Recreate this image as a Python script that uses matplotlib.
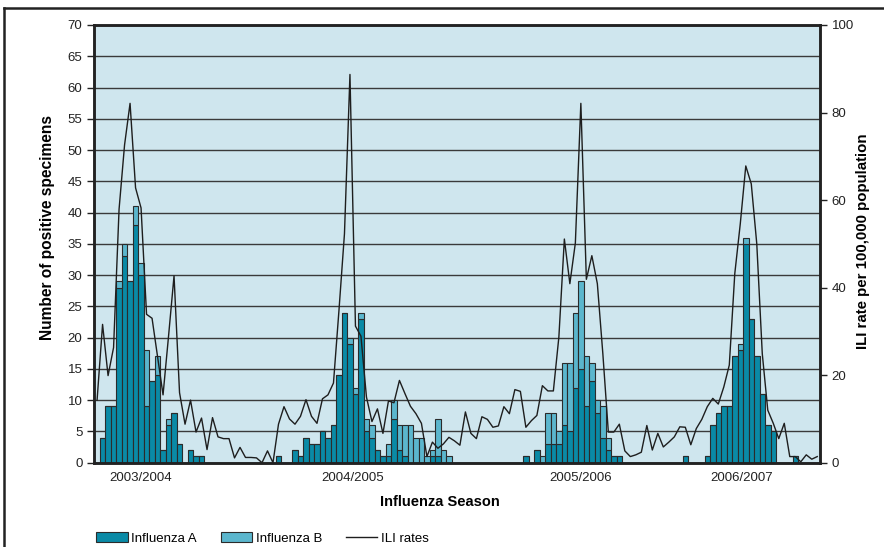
import numpy as np
import matplotlib
matplotlib.use('Agg')
import matplotlib.pyplot as plt
from matplotlib.lines import Line2D

plt.rcParams['font.family'] = ['Liberation Sans', 'DejaVu Sans']

# weekly counts of positive specimens (one slot per reporting week)
flu_a = [0, 4, 9, 9, 28, 33, 29, 38, 30, 9, 13, 14, 2, 6, 8, 3, 0, 2, 1, 1,
         0, 0, 0, 0, 0, 0, 0, 0, 0, 0, 0, 0, 0,
         1, 0, 0, 2, 1, 4, 3, 3, 5, 4, 6, 14, 24, 19, 11, 23, 5, 4, 2, 1, 1, 7,
         2, 1, 0, 0, 0, 0, 1, 1, 0, 0,
         0, 0, 0, 0, 0, 0, 0, 0, 0, 0, 0, 0, 0,
         1, 0, 2, 0, 3, 3, 3, 6, 5, 12, 15, 9, 13, 8, 4, 2, 1, 1,
         0, 0, 0, 0, 0, 0, 0, 0, 0, 0, 0,
         1, 0, 0, 0, 1, 6, 8, 9, 9, 17, 18, 35, 23, 17, 11, 6, 5, 0, 0, 0, 1,
         0, 0, 0, 0]
flu_b = [0, 0, 0, 0, 1, 2, 0, 3, 2, 9, 0, 3, 0, 1, 0, 0, 0, 0, 0, 0,
         0, 0, 0, 0, 0, 0, 0, 0, 0, 0, 0, 0, 0,
         0, 0, 0, 0, 0, 0, 0, 0, 0, 0, 0, 0, 0, 1, 1, 1, 2, 2, 0, 0, 2, 3,
         4, 5, 6, 4, 4, 1, 1, 6, 2, 1,
         0, 0, 0, 0, 0, 0, 0, 0, 0, 0, 0, 0, 0,
         0, 0, 0, 1, 5, 5, 2, 10, 11, 12, 14, 8, 3, 2, 5, 2, 0, 0,
         0, 0, 0, 0, 0, 0, 0, 0, 0, 0, 0,
         0, 0, 0, 0, 0, 0, 0, 0, 0, 0, 1, 1, 0, 0, 0, 0, 0, 0, 0, 0, 0,
         0, 0, 0, 0]
# ILI rate per 100,000 population (right axis)
ili_rate = [14.3, 31.6, 19.9, 26.3, 57.9, 72.6, 82.1, 62.8, 58.2, 33.9,
            33.0, 24.2, 15.5, 28.9, 42.7, 16.0, 8.8, 14.3, 7.0, 10.2,
            3.0, 10.3, 5.9, 5.5, 5.5, 1.1, 3.5, 1.2, 1.2, 1.1,
            0.0, 2.7, 0.0, 8.8, 12.8, 10.0, 8.8, 10.6, 14.4, 10.6,
            9.0, 14.6, 15.5, 18.2, 34.8, 52.3, 88.7, 31.2, 28.9, 15.0,
            9.4, 12.3, 6.7, 14.1, 13.7, 18.8, 15.8, 12.9, 11.2, 9.0,
            1.4, 4.7, 3.3, 4.3, 5.8, 5.0, 4.0, 11.6, 6.7, 5.5,
            10.5, 9.9, 8.1, 8.4, 12.8, 11.2, 16.7, 16.3, 8.1, 9.6,
            10.8, 17.6, 16.4, 16.4, 28.7, 51.1, 40.9, 50.2, 82.1, 41.9,
            47.3, 40.9, 24.9, 7.0, 7.0, 8.8, 2.7, 1.4, 1.8, 2.4,
            8.5, 2.9, 6.7, 3.6, 4.7, 5.9, 8.2, 8.1, 4.1, 7.8,
            9.9, 12.8, 14.7, 13.4, 17.3, 22.3, 43.2, 54.6, 67.8, 63.7,
            50.0, 24.9, 12.0, 9.0, 5.5, 9.0, 1.4, 1.4, 0.2, 1.8,
            0.8, 1.4]
seasons = ['2003/2004', '2004/2005', '2005/2006', '2006/2007']
season_weeks = [8, 46.5, 88, 117.3]

flu_a = np.array(flu_a)
flu_b = np.array(flu_b)
weeks = np.arange(len(flu_a))

fig = plt.figure(figsize=(8.84, 5.47), dpi=100)
ax = fig.add_axes([0.1067, 0.1541, 0.8209, 0.8002])
ax.set_facecolor('#cfe6ee')

# stacked bars
ax.bar(weeks, flu_a, width=1.0, color='#0a8aa6', edgecolor='#2b2b2b',
       linewidth=0.8, label='Influenza A', zorder=2)
ax.bar(weeks, flu_b, bottom=flu_a, width=1.0, color='#5bb6cd',
       edgecolor='#2b2b2b', linewidth=0.8, label='Influenza B', zorder=2)

ax.set_xlim(-0.5, len(weeks) - 0.5)
ax.set_ylim(0, 70)
ax.set_yticks(np.arange(0, 71, 5))
ax.yaxis.grid(True, color='#3a3a3a', linewidth=1.0, zorder=1)
ax.set_axisbelow(True)
ax.set_xticks(season_weeks)
ax.set_xticklabels(seasons)
ax.tick_params(axis='x', length=0, pad=7, labelsize=9.5, colors='#222222')
ax.tick_params(axis='y', length=5, width=1, labelsize=9.5, colors='#222222')
for s in ax.spines.values():
    s.set_linewidth(1.8)
    s.set_color('#222222')

ax.set_ylabel('Number of positive specimens', fontsize=11.2, fontweight='bold')
ax.yaxis.set_label_coords(-0.054, 0.537)
ax.set_xlabel('Influenza Season', fontsize=10.5, fontweight='bold')
ax.xaxis.set_label_coords(0.476, -0.074)

# ILI line on secondary axis
ax2 = ax.twinx()
ax2.plot(weeks, ili_rate, color='#1e1e1e', linewidth=1.0, label='ILI rates')
ax2.set_ylim(0, 100)
ax2.set_yticks([0, 20, 40, 60, 80, 100])
ax2.tick_params(axis='y', length=5, width=1, labelsize=9.5, colors='#222222')
for s in ax2.spines.values():
    s.set_linewidth(1.8)
    s.set_color('#222222')
ax2.set_ylabel('ILI rate per 100,000 population', fontsize=10.8, fontweight='bold')
ax2.yaxis.set_label_coords(1.050, 0.505)

# legend below the chart
h1, l1 = ax.get_legend_handles_labels()
h2, l2 = ax2.get_legend_handles_labels()
fig.legend(h1 + h2, l1 + l2, loc='center left', bbox_to_anchor=(0.109, 0.0155),
           ncol=3, frameon=False, fontsize=9.5, handlelength=2.4,
           handletextpad=0.25, columnspacing=1.8, borderpad=0, borderaxespad=0)

# outer frame (cut at the right and bottom)
fig.add_artist(Line2D([4 / 884, 4 / 884], [0, 1 - 8 / 547], color='#222222', lw=1.8))
fig.add_artist(Line2D([4 / 884, 1], [1 - 8 / 547, 1 - 8 / 547], color='#222222', lw=1.8))

fig.savefig('out.png', dpi=100)
